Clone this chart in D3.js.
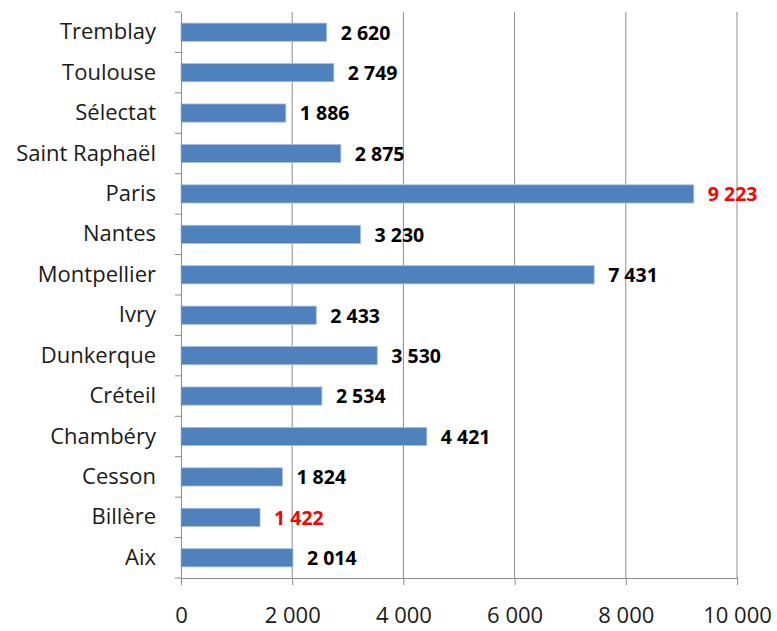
<!DOCTYPE html>
<html>
<head>
<meta charset="utf-8">
<script src="https://cdn.jsdelivr.net/npm/d3@7"></script>
<style>
  body { margin: 0; background: #fff; }
  text { font-family: "Open Sans", sans-serif; }
</style>
</head>
<body>
<div id="chart"></div>
<script>
// categories from top to bottom
const cities = ["Tremblay", "Toulouse", "Sélectat", "Saint Raphaël", "Paris", "Nantes",
  "Montpellier", "Ivry", "Dunkerque", "Créteil", "Chambéry", "Cesson", "Billère", "Aix"];
const values = [2620, 2749, 1886, 2875, 9223, 3230, 7431, 2433, 3530, 2534, 4421, 1824, 1422, 2014];
const highlighted = ["Paris", "Billère"];
const xTicks = [0, 2000, 4000, 6000, 8000, 10000];

const W = 777, H = 631;
const margin = { top: 12, right: 40, bottom: 53, left: 181 };
const width = W - margin.left - margin.right,
      height = H - margin.top - margin.bottom;

// french number format: space as thousands separator
const fmt = d3.formatLocale({ decimal: ",", thousands: " ", grouping: [3], currency: ["", " €"] }).format(",d");

let svg = d3.select("#chart").append("svg")
    .attr("width", W)
    .attr("height", H)
  .append("g")
    .attr("transform", "translate(" + margin.left + "," + margin.top + ")");

let x = d3.scaleLinear().domain([0, 10000]).range([0, width]);
let y = d3.scaleBand().domain(cities).range([0, height]);

// vertical gridlines
svg.selectAll(".grid")
    .data(xTicks.slice(1))
    .enter().append("line")
    .attr("x1", d => x(d)).attr("x2", d => x(d))
    .attr("y1", 0).attr("y2", height)
    .attr("stroke", "#8c8c8c").attr("stroke-width", 1);

// bars
let barH = y.bandwidth() * 0.45;
svg.selectAll(".bar")
    .data(cities)
    .enter().append("rect")
    .attr("x", x(0))
    .attr("y", d => y(d) + (y.bandwidth() - barH) / 2)
    .attr("width", (d, i) => x(values[i]) - x(0))
    .attr("height", barH)
    .attr("fill", "#4f81bd")
    .attr("stroke", "#a7c0de")
    .attr("stroke-width", 0.8);

// value labels
svg.selectAll(".val")
    .data(cities)
    .enter().append("text")
    .attr("x", (d, i) => x(values[i]) + 14)
    .attr("y", d => y(d) + y.bandwidth() / 2)
    .attr("dy", "0.38em")
    .attr("font-size", "19.5px")
    .attr("font-weight", "bold")
    .attr("fill", d => highlighted.includes(d) ? "#ff0000" : "#000")
    .text((d, i) => fmt(values[i]));

// left axis
let yAxis = svg.append("g")
    .call(d3.axisLeft(y).tickSize(0).tickPadding(25));
yAxis.select(".domain").attr("stroke", "#8c8c8c");
yAxis.selectAll("text")
    .attr("font-size", "22px")
    .attr("fill", "#1a1a1a")
    .style("font-family", "'Open Sans', sans-serif");

// small tick marks between categories
svg.selectAll(".ytick")
    .data(d3.range(cities.length + 1))
    .enter().append("line")
    .attr("x1", -6).attr("x2", 0)
    .attr("y1", i => i * y.step()).attr("y2", i => i * y.step())
    .attr("stroke", "#8c8c8c");

// bottom axis
let xAxis = svg.append("g")
    .attr("transform", "translate(0," + height + ")")
    .call(d3.axisBottom(x).tickValues(xTicks).tickFormat(fmt).tickSize(7).tickPadding(22));
xAxis.select(".domain").attr("stroke", "#8c8c8c");
xAxis.selectAll("line").attr("stroke", "#8c8c8c");
xAxis.selectAll("text")
    .attr("font-size", "22px")
    .attr("fill", "#1a1a1a")
    .style("font-family", "'Open Sans', sans-serif");
</script>
</body>
</html>
